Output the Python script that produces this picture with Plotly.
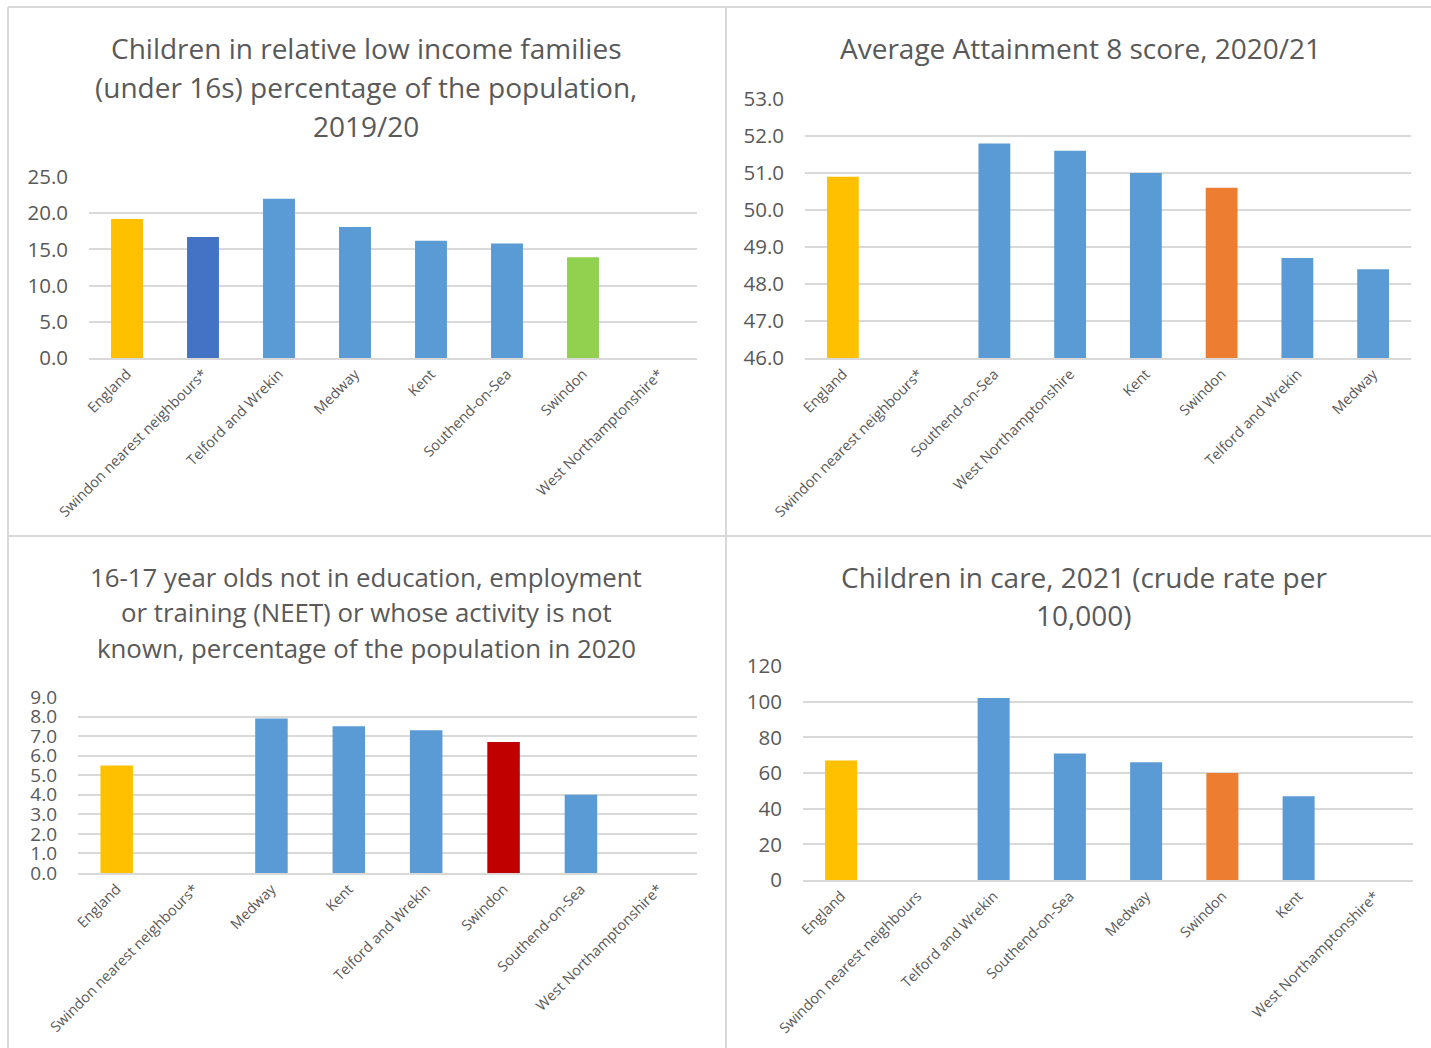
import plotly.graph_objects as go

W, H = 1431, 1048

# ---- data ----
cats1 = ["England", "Swindon nearest neighbours*", "Telford and Wrekin", "Medway", "Kent",
         "Southend-on-Sea", "Swindon", "West Northamptonshire*"]
vals1 = [19.2, 16.7, 22.0, 18.1, 16.2, 15.8, 13.9, None]

cats2 = ["England", "Swindon nearest neighbours*", "Southend-on-Sea", "West Northamptonshire",
         "Kent", "Swindon", "Telford and Wrekin", "Medway"]
vals2 = [50.9, None, 51.8, 51.6, 51.0, 50.6, 48.7, 48.4]

cats3 = ["England", "Swindon nearest neighbours*", "Medway", "Kent", "Telford and Wrekin",
         "Swindon", "Southend-on-Sea", "West Northamptonshire*"]
vals3 = [5.5, None, 7.9, 7.5, 7.3, 6.7, 4.0, None]

cats4 = ["England", "Swindon nearest neighbours", "Telford and Wrekin", "Southend-on-Sea",
         "Medway", "Swindon", "Kent", "West Northamptonshire*"]
vals4 = [67, None, 102, 71, 66, 60, 47, None]

titles1 = ["Children in relative low income families",
           "(under 16s) percentage of the population,", "2019/20"]
titles2 = ["Average Attainment 8 score, 2020/21"]
titles3 = ["16-17 year olds not in education, employment",
           "or training (NEET) or whose activity is not",
           "known, percentage of the population in 2020"]
titles4 = ["Children in care, 2021 (crude rate per", "10,000)"]

# ---- styles ----
GOLD, DBLUE, BLUE, GREEN, ORANGE, RED = "#FFC000", "#4472C4", "#5B9BD5", "#92D050", "#ED7D31", "#C00000"
cols1 = [GOLD, DBLUE, BLUE, BLUE, BLUE, BLUE, GREEN, BLUE]
cols2 = [GOLD, BLUE, BLUE, BLUE, BLUE, ORANGE, BLUE, BLUE]
cols3 = [GOLD, BLUE, BLUE, BLUE, BLUE, RED, BLUE, BLUE]
cols4 = [GOLD, BLUE, BLUE, BLUE, BLUE, ORANGE, BLUE, BLUE]

FONT = "Open Sans"
TXT = "#595959"
GRID = "#d9d9d9"

def px_x(x):
    return x / W

def px_y(y):
    return 1 - y / H

fig = go.Figure()

panels = [
    (cats1, vals1, cols1, (89, 697), (177, 358), [0, 25], 5, ".1f", 20.5),
    (cats2, vals2, cols2, (805, 1411), (99, 358), [46, 53], 1, ".1f", 20.5),
    (cats3, vals3, cols3, (78, 697), (697, 873), [0, 9], 1, ".1f", 19),
    (cats4, vals4, cols4, (803, 1413), (666, 880), [0, 120], 20, "d", 20.5),
]

layout = dict(
    template="none",
    width=W, height=H, autosize=False, margin=dict(l=0, r=0, t=0, b=0, pad=0),
    paper_bgcolor="white", plot_bgcolor="white", showlegend=False,
    font=dict(family=FONT, color=TXT),
    bargap=0.58,
)

for i, (cats, vals, cols, (x0, x1), (ytop, ybot), rng, dt, fmt, fs) in enumerate(panels, start=1):
    base = rng[0] if rng[0] != 0 else None
    fig.add_trace(go.Bar(
        x=cats, y=[(v - rng[0]) if v is not None else None for v in vals] if base else vals,
        base=base, marker=dict(color=cols, line=dict(width=0)),
        xaxis=f"x{i}", yaxis=f"y{i}", hoverinfo="x+y",
    ))
    sfx = "" if i == 1 else str(i)
    layout[f"xaxis{sfx}"] = dict(
        domain=[px_x(x0), px_x(x1)], anchor=f"y{i}", type="category",
        categoryorder="array", categoryarray=cats, automargin=False,
        tickangle=-45, tickfont=dict(size=14.5, color=TXT, family=FONT),
        showgrid=False, showline=True, linecolor=GRID, linewidth=2, ticks="",
        zeroline=False, fixedrange=True,
    )
    layout[f"yaxis{sfx}"] = dict(
        domain=[px_y(ybot), px_y(ytop)], anchor=f"x{i}", range=rng, dtick=dt,
        tick0=rng[0], tickformat=fmt, showgrid=True, gridcolor=GRID, gridwidth=2,
        zeroline=False, showline=False, ticks="", ticklabelstandoff=20, automargin=False,
        tickfont=dict(size=fs, color=TXT, family=FONT), fixedrange=True,
    )

fig.update_layout(**layout)

# titles
anns = []
def add_title(lines, cx, ys, size):
    for t, y in zip(lines, ys):
        anns.append(dict(text=t, x=px_x(cx), y=px_y(y), xref="paper", yref="paper",
                         xanchor="center", yanchor="middle", showarrow=False,
                         font=dict(size=size, color=TXT, family=FONT)))

add_title(titles1, 366, [48, 87, 126], 28)
add_title(titles2, 1080, [48], 28)
add_title(titles3, 366, [577, 612, 648], 25.8)
add_title(titles4, 1084, [577, 615], 28)
fig.update_layout(annotations=anns)

# panel borders
shape_lines = [
    (8, 7, W, 7),
    (8, 7, 8, H),
    (726, 7, 726, H),
    (8, 536, W, 536),
]
fig.update_layout(shapes=[
    dict(type="line", xref="paper", yref="paper", x0=px_x(a), y0=px_y(b), x1=px_x(c), y1=px_y(d),
         line=dict(color=GRID, width=2))
    for a, b, c, d in shape_lines
])

fig.write_html("out.html")
